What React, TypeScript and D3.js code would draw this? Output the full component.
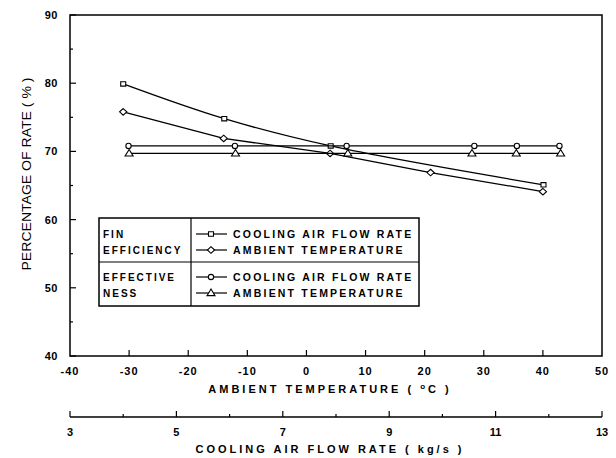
import { useRef, useEffect } from 'react';
import * as d3 from 'd3';

// fin efficiency vs cooling air flow rate (kg/s)
const finFlowX = [4.0, 5.9, 7.9, 11.9];
const finFlowY = [79.9, 74.8, 70.8, 65.1];
// fin efficiency vs ambient temperature (C)
const finTempX = [-31, -14, 4, 21, 40];
const finTempY = [75.8, 71.9, 69.7, 66.9, 64.1];
// effectiveness vs cooling air flow rate
const effFlowX = [4.1, 6.1, 8.2, 10.6, 11.4, 12.2];
const effFlowY = [70.8, 70.8, 70.8, 70.8, 70.8, 70.8];
// effectiveness vs ambient temperature
const effTempX = [-30, -12, 7, 28, 35.5, 43];
const effTempY = [69.7, 69.7, 69.7, 69.7, 69.7, 69.7];

const yTicks = [40, 50, 60, 70, 80, 90];
const tempTicks = [-40, -30, -20, -10, 0, 10, 20, 30, 40, 50];
const flowTicks = [3, 5, 7, 9, 11, 13];

const FONT = '"Liberation Sans", Arial, sans-serif';

const App = () => {
  const ref = useRef<SVGSVGElement>(null);

  useEffect(() => {
    const svg = d3.select(ref.current);
    svg.selectAll('*').remove();

    const left = 70, right = 602, top = 15, bottom = 356;
    const flowAxisY = 417;

    const x = d3.scaleLinear().domain([-40, 50]).range([left, right]);
    const xf = d3.scaleLinear().domain([3, 13]).range([left, right]);
    const y = d3.scaleLinear().domain([40, 90]).range([bottom, top]);

    const g = svg.append('g').attr('font-family', FONT);

    // frame
    g.append('rect')
      .attr('x', left).attr('y', top)
      .attr('width', right - left).attr('height', bottom - top)
      .attr('fill', 'none').attr('stroke', '#000').attr('stroke-width', 1.5);

    // y ticks (inward)
    d3.range(40, 91, 5).forEach(v => {
      const major = v % 10 === 0;
      g.append('line')
        .attr('x1', left).attr('x2', left + (major ? 6 : 3))
        .attr('y1', y(v)).attr('y2', y(v))
        .attr('stroke', '#000').attr('stroke-width', 1.2);
    });
    g.selectAll('.ylab').data(yTicks).enter().append('text')
      .attr('x', 58).attr('y', d => y(d) + 4)
      .attr('text-anchor', 'end')
      .attr('font-size', 11).attr('font-weight', 'bold')
      .attr('letter-spacing', 0.5)
      .text(d => d);

    // x ticks (temperature)
    tempTicks.slice(1, -1).forEach(v => {
      g.append('line')
        .attr('x1', x(v)).attr('x2', x(v))
        .attr('y1', bottom).attr('y2', bottom - 6)
        .attr('stroke', '#000').attr('stroke-width', 1.2);
    });
    g.selectAll('.xlab').data(tempTicks).enter().append('text')
      .attr('x', d => x(d)).attr('y', 375)
      .attr('text-anchor', 'middle')
      .attr('font-size', 11).attr('font-weight', 'bold')
      .attr('letter-spacing', 1)
      .text(d => d);

    const tl = g.append('text')
      .attr('x', 330).attr('y', 393)
      .attr('text-anchor', 'middle')
      .attr('font-size', 11).attr('font-weight', 'bold')
      .attr('letter-spacing', 3);
    tl.append('tspan').text('AMBIENT TEMPERATURE ( ');
    tl.append('tspan').attr('dy', -4).attr('font-size', 8).text('o');
    tl.append('tspan').attr('dy', 4).text('C )');

    // flow rate axis
    g.append('line')
      .attr('x1', left).attr('x2', right)
      .attr('y1', flowAxisY).attr('y2', flowAxisY)
      .attr('stroke', '#000').attr('stroke-width', 1.5);
    d3.range(3, 13.01, 1).forEach(v => {
      const major = flowTicks.includes(v);
      g.append('line')
        .attr('x1', xf(v)).attr('x2', xf(v))
        .attr('y1', flowAxisY).attr('y2', flowAxisY - (major ? 6 : 3))
        .attr('stroke', '#000').attr('stroke-width', 1.2);
    });
    g.selectAll('.flab').data(flowTicks).enter().append('text')
      .attr('x', d => xf(d)).attr('y', 436)
      .attr('text-anchor', 'middle')
      .attr('font-size', 11).attr('font-weight', 'bold')
      .text(d => d);
    g.append('text')
      .attr('x', 330).attr('y', 453)
      .attr('text-anchor', 'middle')
      .attr('font-size', 11).attr('font-weight', 'bold')
      .attr('letter-spacing', 3)
      .text('COOLING AIR FLOW RATE ( kg/s )');

    // y title
    g.append('text')
      .attr('transform', `translate(31, 174) rotate(-90)`)
      .attr('text-anchor', 'middle')
      .attr('font-size', 13)
      .attr('textLength', 193)
      .attr('lengthAdjust', 'spacingAndGlyphs')
      .text('PERCENTAGE OF RATE ( % )');

    // markers
    const drawMarker = (sel: any, kind: string, cx: number, cy: number) => {
      const s = sel.append('path')
        .attr('fill', '#fff').attr('stroke', '#000').attr('stroke-width', 1.1);
      if (kind === 'square') s.attr('d', `M${cx - 2.5},${cy - 2.2}h5v4.4h-5Z`);
      if (kind === 'diamond') s.attr('d', `M${cx},${cy - 3.3}L${cx + 3.6},${cy}L${cx},${cy + 3.3}L${cx - 3.6},${cy}Z`);
      if (kind === 'circle') s.attr('d', d3.symbol(d3.symbolCircle, 22)()).attr('transform', `translate(${cx},${cy})`);
      if (kind === 'triangle') s.attr('d', `M${cx},${cy - 4}L${cx + 4},${cy + 2.6}L${cx - 4},${cy + 2.6}Z`);
    };

    const series = [
      { xs: finFlowX, ys: finFlowY, sx: xf, kind: 'square', curve: d3.curveCatmullRom },
      { xs: finTempX, ys: finTempY, sx: x, kind: 'diamond', curve: d3.curveLinear },
      { xs: effFlowX, ys: effFlowY, sx: xf, kind: 'circle', curve: d3.curveLinear },
      { xs: effTempX, ys: effTempY, sx: x, kind: 'triangle', curve: d3.curveLinear },
    ];

    series.forEach(s => {
      const pts: [number, number][] = s.xs.map((v, i) => [s.sx(v), y(s.ys[i])]);
      g.append('path')
        .attr('d', d3.line().curve(s.curve)(pts))
        .attr('fill', 'none').attr('stroke', '#000').attr('stroke-width', 1.3);
      pts.forEach(p => drawMarker(g, s.kind, p[0], p[1]));
    });

    // legend
    const lx0 = 99, lx1 = 191, lx2 = 419, ly0 = 218, ly1 = 262, ly2 = 306;
    const lg = g.append('g');
    lg.append('rect')
      .attr('x', lx0).attr('y', ly0).attr('width', lx2 - lx0).attr('height', ly2 - ly0)
      .attr('fill', '#fff').attr('stroke', '#000').attr('stroke-width', 1.5);
    lg.append('line').attr('x1', lx1).attr('x2', lx1).attr('y1', ly0).attr('y2', ly2)
      .attr('stroke', '#000').attr('stroke-width', 1.2);
    lg.append('line').attr('x1', lx0).attr('x2', lx2).attr('y1', ly1).attr('y2', ly1)
      .attr('stroke', '#000').attr('stroke-width', 1.2);

    const groupLabels = [['FIN', 'EFFICIENCY'], ['EFFECTIVE', 'NESS']];
    const groupY = [[238, 254], [281, 297]];
    groupLabels.forEach((lines, gi) => lines.forEach((t, li) => {
      lg.append('text')
        .attr('x', 103).attr('y', groupY[gi][li])
        .attr('font-size', 10).attr('font-weight', 'bold')
        .attr('letter-spacing', 2)
        .text(t);
    }));

    const entries = [
      { kind: 'square', label: 'COOLING AIR FLOW RATE', y: 234 },
      { kind: 'diamond', label: 'AMBIENT TEMPERATURE', y: 250 },
      { kind: 'circle', label: 'COOLING AIR FLOW RATE', y: 277 },
      { kind: 'triangle', label: 'AMBIENT TEMPERATURE', y: 293 },
    ];
    entries.forEach(e => {
      lg.append('line').attr('x1', 196).attr('x2', 227).attr('y1', e.y).attr('y2', e.y)
        .attr('stroke', '#000').attr('stroke-width', 1.2);
      drawMarker(lg, e.kind, 211, e.y);
      lg.append('text')
        .attr('x', 233).attr('y', e.y + 4)
        .attr('font-size', 10.5).attr('font-weight', 'bold')
        .attr('letter-spacing', 2.2)
        .text(e.label);
    });
  }, []);

  return (
    <svg ref={ref} width={616} height={458}
      style={{ position: 'absolute', left: 0, top: 0, background: '#fff' }} />
  );
};

export default App;
